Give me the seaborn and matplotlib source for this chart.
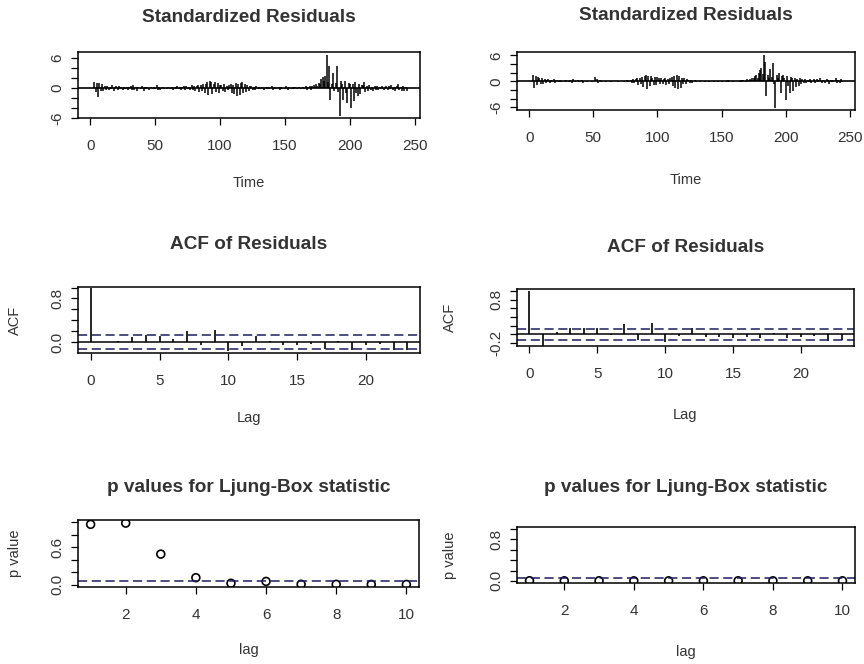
import numpy as np
import matplotlib
matplotlib.use("Agg")
import matplotlib.pyplot as plt
import seaborn as sns

# ---------------------------------------------------
# Data (left / right model)
# ---------------------------------------------------

resid_left = [
    0.0, 0.1, 1.2, -0.8, 1.0, -1.8, 1.1, -0.6, 0.9, -0.5,
    0.4, -0.3, 0.5, -0.4, 0.3, -0.2, 0.6, -0.5, 0.2, 0.4,
    -0.3, 0.5, -0.2, 0.3, -0.4, 0.2, -0.1, 0.3, -0.3, 0.2,
    0.5, -0.4, 0.6, -0.3, 0.2, -0.5, 0.3, 0.1, -0.2, 0.4,
    -0.6, 0.3, -0.2, 0.2, -0.3, 0.1, 0.2, -0.2, 0.3, -0.1,
    0.6, -0.4, 0.2, -0.3, 0.1, 0.2, -0.1, 0.1, -0.2, 0.3,
    -0.2, 0.1, 0.2, -0.3, 0.2, -0.1, 0.4, -0.2, 0.3, -0.3,
    0.2, 0.4, -0.3, 0.5, -0.2, 0.3, -0.4, 0.6, -0.3, 0.4,
    -0.6, 0.5, 0.7, -0.8, 0.6, -0.5, 0.9, -1.0, 0.8, 1.2,
    -1.3, 1.5, 1.3, -1.1, 0.9, 1.2, -0.8, 1.0, -0.9, 0.7,
    0.6, -0.5, 0.8, -0.7, 0.5, -0.4, 0.6, 0.8, -0.9, 0.7,
    -1.2, 1.0, -1.5, 0.9, -1.4, 1.1, 1.2, -1.0, 0.8, -0.7,
    0.6, -0.5, 0.4, 0.5, -0.4, 0.3, -0.3, 0.4, -0.2, 0.3,
    -0.2, 0.2, 0.1, -0.3, 0.2, -0.1, 0.3, -0.2, 0.1, 0.4,
    -0.3, 0.2, -0.2, 0.1, 0.3, -0.4, 0.2, -0.1, 0.1, -0.2,
    0.4, -0.3, 0.2, 0.1, -0.2, 0.2, -0.1, 0.3, -0.2, 0.1,
    0.2, -0.1, 0.1, 0.3, -0.2, 0.4, -0.3, 0.2, 0.5, -0.4,
    0.4, 0.6, 0.3, 0.8, 0.5, 1.0, 0.9, 1.8, 2.2, 1.5,
    2.4, 6.7, 1.2, 4.4, -2.3, 0.8, 3.1, -0.6, 1.0, 4.4,
    -0.8, -5.6, 1.5, 0.9, -2.3, 1.4, -1.0, -3.0, 1.1, 0.8,
    -3.9, 0.9, -2.5, 1.2, -1.0, -1.5, 0.8, -1.2, 0.7, 0.6,
    1.2, -0.8, 0.5, -0.6, 0.7, -0.4, 0.3, -0.5, 0.4, -0.3,
    0.5, -0.4, 0.3, -0.2, 0.4, -0.3, 0.2, 0.5, -0.3, 0.4,
    -0.2, 0.6, -0.4, 0.3, -0.5, 0.4, 0.9, -0.3, 0.3, -0.6,
    0.5, -0.6, 0.2, -0.5,
]

resid_right = [
    0.1, 0.0, 1.4, -1.5, 1.2, -0.9, 1.0, 0.8, -0.7, 0.9,
    -0.5, 0.6, -0.3, 0.4, 0.5, -0.4, 0.3, -0.2, 0.5, -0.3,
    0.2, 0.4, -0.2, 0.3, -0.1, 0.2, 0.1, -0.2, 0.3, 0.1,
    -0.1, 0.4, -0.3, 0.5, 0.2, -0.2, 0.1, 0.3, -0.1, 0.2,
    0.4, -0.3, 0.1, 0.2, -0.1, 0.1, 0.0, 0.2, -0.1, 0.1,
    1.0, 0.2, 0.6, -0.3, 0.4, -0.2, 0.1, 0.1, 0.0, -0.1,
    0.2, 0.0, 0.1, -0.1, 0.2, 0.0, 0.1, 0.1, -0.1, 0.2,
    0.0, 0.1, 0.2, -0.1, 0.1, 0.3, -0.2, 0.2, 0.4, -0.3,
    0.5, -0.4, 0.6, 0.7, -0.8, 0.9, -0.6, 1.1, -1.2, 1.2,
    1.4, -1.8, 1.3, -1.0, 1.2, 0.9, -0.8, 1.1, -0.9, 1.0,
    0.8, -0.6, 0.9, -0.7, 0.5, 0.8, -0.9, 0.6, -0.5, 0.7,
    1.0, -1.1, 1.3, -1.5, 1.4, -1.8, 1.2, -1.6, 0.9, -0.7,
    0.8, -0.5, 0.6, 0.4, -0.3, 0.3, -0.4, 0.2, 0.3, -0.2,
    0.1, 0.2, -0.1, 0.1, 0.0, 0.2, -0.1, 0.1, 0.1, -0.2,
    0.0, 0.1, 0.2, -0.1, 0.1, 0.0, -0.1, 0.1, 0.2, -0.1,
    0.1, 0.0, 0.1, -0.2, 0.3, -0.1, 0.0, 0.1, -0.1, 0.2,
    0.0, 0.1, 0.2, -0.1, 0.3, -0.2, 0.4, 0.2, -0.1, 0.5,
    0.3, 0.6, 0.4, 0.9, 0.7, 1.2, 1.5, 0.9, 2.0, 2.6,
    3.2, 1.8, 6.2, 4.6, -3.4, 1.5, 0.8, 2.9, 1.1, 4.3,
    -0.6, -6.1, 1.5, 0.9, 1.9, -2.7, 1.2, 1.6, 0.7, -4.2,
    1.3, -1.0, -2.6, 1.1, 0.9, -2.2, 0.8, -1.4, 0.6, -1.0,
    0.7, -0.6, 0.5, -0.4, 0.6, -0.3, 0.4, -0.2, 0.5, -0.3,
    0.2, 0.6, -0.4, 0.5, -0.2, 0.3, 0.7, -0.3, 0.4, 0.2,
    -0.4, 0.6, 0.3, -0.5, 0.4, -0.2, 0.3, 0.2, 0.9, -0.3,
    0.4, -0.3, 0.5, -0.2,
]

acf_left = [1.0, 0.01, 0.02, 0.10, 0.13, 0.12, 0.05, 0.20, -0.05, 0.22,
            -0.17, -0.07, 0.12, 0.02, -0.05, -0.05, -0.03, -0.13, 0.02, -0.14,
            -0.06, -0.03, -0.14, -0.14]
acf_right = [1.0, -0.27, 0.06, 0.14, 0.14, 0.14, -0.02, 0.23, -0.12, 0.27,
             -0.17, -0.03, 0.14, -0.05, -0.05, -0.08, -0.05, -0.09, 0.02, -0.08,
             -0.05, -0.03, -0.15, -0.12]

lb_lags = list(range(1, 11))
pval_left = [0.97, 0.99, 0.49, 0.11, 0.02, 0.05, 0.004, 0.003, 0.002, 0.001]
pval_right = [0.004, 0.002, 0.003, 0.001, 0.002, 0.002, 0.003, 0.002, 0.002, 0.002]

# ---------------------------------------------------
# Style (R base graphics look)
# ---------------------------------------------------

sns.set_style("white")
plt.rcParams["font.family"] = ["Liberation Sans", "DejaVu Sans"]
plt.rcParams["axes.linewidth"] = 1.0
plt.rcParams["axes.edgecolor"] = "black"

W, H = 864, 664
fig = plt.figure(figsize=(W / 100, H / 100), dpi=100)

CI_COL = "#1c1c5e"
TXT_COL = "#333333"
TICK_FS = 11
LAB_FS = 10.5
TITLE_FS = 13.7


def px_axes(l, t, r, b):
    return fig.add_axes([l / W, 1 - b / H, (r - l) / W, (b - t) / H])


def r_style(ax, box, title, title_off, xlabel, xlab_off, ylabel=None, ylab_off=0,
            xticks=(), yticks=(), ylabels=()):
    l, t, r, b = box
    h, w = b - t, r - l
    for s in ax.spines.values():
        s.set_visible(True)
        s.set_color("black")
        s.set_linewidth(1.1)
    ax.set_xticks(xticks, [str(x) for x in xticks])
    ax.set_yticks(yticks, ylabels, rotation=90, va="center")
    ax.tick_params(direction="out", length=5, width=0.9, labelsize=TICK_FS,
                   colors="black", labelcolor=TXT_COL,
                   bottom=True, left=True, top=False, right=False)
    ax.tick_params(axis="x", pad=10)
    ax.tick_params(axis="y", pad=5)
    ax.set_title(title, fontsize=TITLE_FS, fontweight="bold", pad=0,
                 y=1 + title_off / h, va="center", color=TXT_COL)
    ax.set_xlabel(xlabel, fontsize=LAB_FS, va="center", color=TXT_COL)
    ax.xaxis.set_label_coords(0.5, -xlab_off / h)
    if ylabel:
        ax.set_ylabel(ylabel, fontsize=LAB_FS, va="center", color=TXT_COL)
        ax.yaxis.set_label_coords(-ylab_off / w, 0.5)
    else:
        ax.set_ylabel("")


def resid_panel(box, resid, ylim, title_off, xlab_off):
    ax = px_axes(*box)
    t = np.arange(1, len(resid) + 1)
    ax.vlines(t, 0, resid, color="black", lw=1.1)
    ax.axhline(0, color="black", lw=1.2)
    ax.set_xlim(-9.5, 254)
    ax.set_ylim(*ylim)
    r_style(ax, box, "Standardized Residuals", title_off, "Time", xlab_off,
            xticks=[0, 50, 100, 150, 200, 250],
            yticks=[-6, -4, -2, 0, 2, 4, 6],
            ylabels=["-6", "", "", "0", "", "", "6"])
    return ax


def acf_panel(box, acf, n, ylim, yticks, ylabels, title_off, xlab_off, ylab_off):
    ax = px_axes(*box)
    lags = np.arange(len(acf))
    clim = 1.96 / np.sqrt(n)
    ax.vlines(lags, 0, acf, color="black", lw=1.2)
    ax.axhline(0, color="black", lw=1.1)
    for c in (clim, -clim):
        ax.axhline(c, color=CI_COL, lw=1.1, ls=(0, (6, 3)))
    ax.set_xlim(-0.92, 23.92)
    ax.set_ylim(*ylim)
    r_style(ax, box, "ACF of Residuals", title_off, "Lag", xlab_off,
            ylabel="ACF", ylab_off=ylab_off,
            xticks=[0, 5, 10, 15, 20], yticks=yticks, ylabels=ylabels)
    return ax


def lb_panel(box, pvals, ylabels, title_off, xlab_off, ylab_off):
    ax = px_axes(*box)
    sns.scatterplot(x=lb_lags, y=pvals, ax=ax, marker="o", s=32,
                    facecolor="none", edgecolor="black", linewidth=1.2)
    ax.axhline(0.05, color=CI_COL, lw=1.1, ls=(0, (6, 3)))
    ax.set_xlim(0.64, 10.36)
    ax.set_ylim(-0.04, 1.04)
    r_style(ax, box, "p values for Ljung-Box statistic", title_off, "lag", xlab_off,
            ylabel="p value", ylab_off=ylab_off,
            xticks=[2, 4, 6, 8, 10],
            yticks=[0.0, 0.2, 0.4, 0.6, 0.8, 1.0], ylabels=ylabels)
    return ax


# left column
resid_panel((78, 52, 420, 118), resid_left, (-6.0, 7.2), 35, 65)
acf_panel((78, 287, 420, 353), acf_left, len(resid_left), (-0.2, 1.01),
          [0.0, 0.2, 0.4, 0.6, 0.8, 1.0], ["0.0", "", "", "", "0.8", ""], 42, 65, 63)
lb_panel((78, 520, 419, 587), pval_left, ["0.0", "", "", "0.6", "", ""], 33, 63, 63)

# right column
resid_panel((517, 52, 855, 110), resid_right, (-6.6, 6.8), 37, 70)
acf_panel((517, 289, 854, 346), acf_right, len(resid_right), (-0.27, 1.05),
          [-0.2, 0.0, 0.2, 0.4, 0.6, 0.8, 1.0], ["-0.2", "", "", "", "", "0.8", ""],
          42, 69, 67)
lb_panel((517, 527, 855, 583), pval_right, ["0.0", "", "", "", "0.8", ""], 39, 69, 67)

fig.savefig("out.png", dpi=100, facecolor="white")
